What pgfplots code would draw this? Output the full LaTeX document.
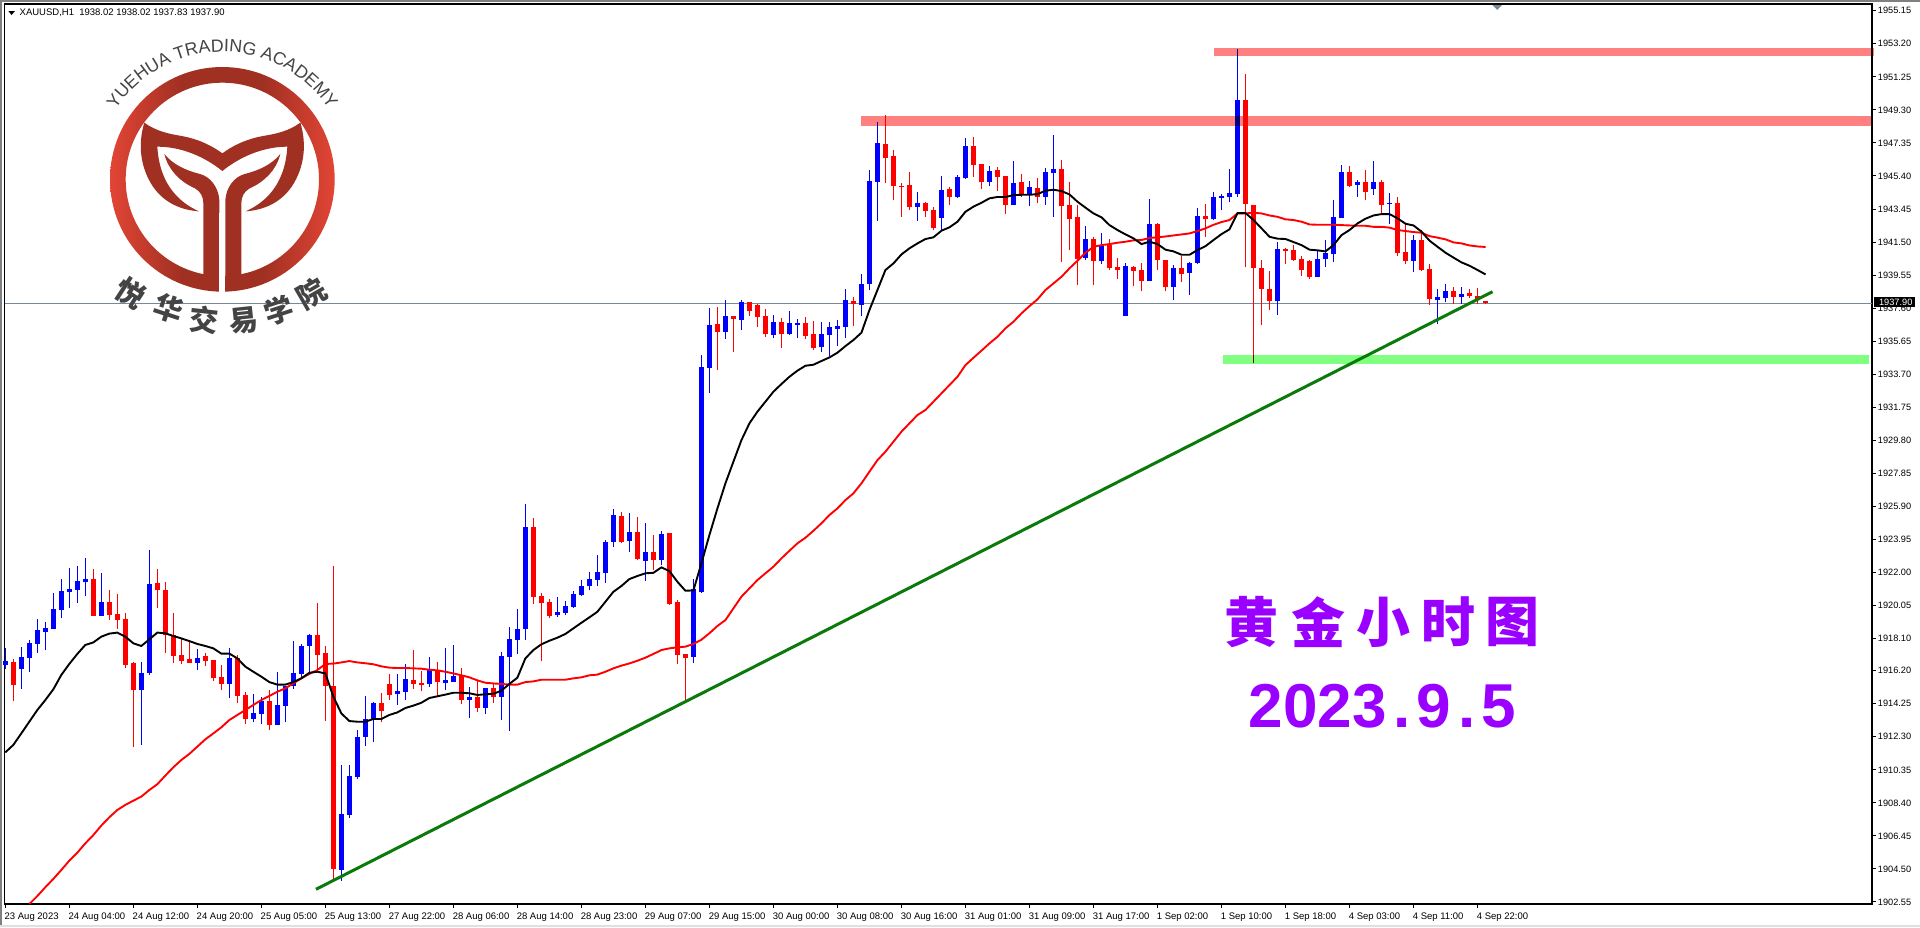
\documentclass[border=0pt]{standalone}
\usepackage{fontspec}
\usepackage{pgfplots}
\usepackage{pgfplotstable}
\pgfplotsset{compat=1.18}
\usetikzlibrary{decorations.text}
\setmainfont{Liberation Sans}
\newfontfamily\cjk{Noto Sans CJK SC}

\definecolor{barblue}{HTML}{0000FF}
\definecolor{barred}{HTML}{FF0000}
\definecolor{zonered}{HTML}{FF8080}
\definecolor{zonegreen}{HTML}{80FF80}
\definecolor{trendgreen}{HTML}{0A7A0A}
\definecolor{priceline}{HTML}{778899}
\definecolor{logodark}{HTML}{A03022}
\definecolor{logolight}{HTML}{E24535}
\definecolor{logotext}{HTML}{444444}
\definecolor{titlepurple}{HTML}{9900FF}
\pgfdeclarehorizontalshading{logoring}{100bp}{color(0bp)=(logolight); color(25bp)=(logolight); color(41bp)=(logodark); color(59bp)=(logodark); color(75bp)=(logolight); color(100bp)=(logolight)}

% bullish bars
\pgfplotstableread{
i o h l c
0 1916.54 1917.52 1916.30 1916.77
2 1916.30 1917.60 1915.12 1917.01
3 1916.95 1918.01 1916.12 1917.84
4 1917.78 1919.25 1917.25 1918.60
5 1918.48 1919.07 1917.42 1918.72
6 1918.66 1920.79 1918.66 1919.84
7 1919.78 1921.61 1919.31 1920.90
8 1920.85 1922.26 1919.90 1921.02
9 1920.96 1922.38 1920.20 1921.49
10 1921.44 1922.85 1920.61 1921.61
12 1919.43 1921.97 1919.43 1920.26
17 1915.06 1916.71 1911.82 1916.07
18 1916.07 1923.32 1915.95 1921.32
24 1916.66 1917.48 1916.24 1916.95
28 1915.42 1917.54 1914.59 1916.95
31 1913.35 1914.83 1913.17 1913.70
32 1913.65 1914.65 1913.06 1914.41
34 1913.00 1916.12 1913.00 1914.18
35 1914.12 1915.30 1913.17 1915.30
36 1915.30 1917.95 1915.12 1916.07
37 1916.01 1917.78 1915.83 1917.66
38 1917.66 1918.37 1916.07 1918.31
42 1904.44 1910.64 1903.79 1907.74
43 1907.69 1910.64 1907.51 1909.99
44 1909.93 1912.70 1909.81 1912.29
45 1912.29 1914.71 1911.76 1913.35
46 1913.35 1914.35 1911.99 1914.29
49 1914.83 1916.01 1914.18 1915.00
50 1914.94 1916.60 1914.47 1915.71
53 1915.42 1917.01 1915.24 1916.24
55 1915.47 1917.54 1915.06 1915.65
56 1915.53 1917.72 1915.53 1915.89
58 1914.47 1915.24 1913.41 1914.65
60 1914.00 1915.18 1913.64 1915.18
62 1914.67 1917.30 1913.29 1917.07
63 1917.01 1918.78 1912.64 1918.07
64 1918.01 1919.84 1917.19 1918.66
65 1918.66 1926.04 1918.01 1924.68
69 1919.49 1920.55 1919.37 1919.66
70 1919.60 1920.31 1919.49 1920.02
71 1919.96 1920.90 1919.90 1920.73
72 1920.67 1921.55 1920.61 1921.20
73 1921.20 1922.02 1920.96 1921.61
74 1921.55 1923.03 1921.20 1922.02
75 1921.97 1923.91 1921.38 1923.80
76 1923.80 1925.74 1923.50 1925.39
78 1923.85 1925.51 1923.21 1924.39
80 1922.67 1924.92 1921.49 1923.21
82 1922.73 1924.44 1922.44 1924.27
86 1917.01 1921.61 1916.65 1921.02
87 1920.84 1934.83 1920.78 1934.12
88 1934.06 1937.60 1932.59 1936.60
90 1936.19 1938.08 1935.78 1937.13
92 1936.90 1938.08 1936.31 1937.96
96 1936.01 1937.19 1935.83 1936.78
98 1936.07 1937.43 1936.01 1936.72
99 1936.60 1936.96 1935.83 1936.72
102 1935.30 1936.78 1935.01 1936.07
103 1936.01 1936.78 1934.77 1936.48
104 1936.37 1936.90 1935.36 1936.54
105 1936.48 1938.73 1935.83 1938.08
107 1937.78 1939.61 1937.13 1939.02
108 1939.02 1945.75 1938.67 1945.10
109 1945.04 1948.58 1942.74 1947.34
114 1943.57 1944.45 1942.74 1943.80
117 1942.92 1945.39 1942.15 1944.57
119 1944.16 1945.45 1944.10 1945.34
120 1945.28 1947.64 1945.22 1947.17
123 1945.04 1945.99 1944.80 1945.69
126 1943.68 1946.28 1943.68 1944.98
128 1944.33 1945.10 1943.62 1944.75
130 1944.16 1945.87 1943.68 1945.63
131 1945.57 1947.81 1942.98 1945.81
135 1940.56 1942.44 1940.44 1941.68
137 1940.38 1942.03 1940.20 1941.26
140 1937.13 1940.26 1937.13 1940.08
143 1939.20 1944.04 1939.20 1942.56
146 1938.84 1940.14 1938.08 1939.97
148 1939.67 1940.32 1938.37 1940.26
149 1940.26 1943.51 1940.20 1943.03
151 1942.86 1944.45 1942.80 1944.16
152 1944.10 1944.33 1943.39 1944.21
153 1944.16 1945.81 1943.86 1944.39
154 1944.33 1952.89 1944.16 1949.88
159 1938.02 1941.50 1937.19 1941.09
164 1939.43 1941.03 1939.43 1940.50
165 1940.50 1941.62 1940.02 1940.85
166 1940.79 1943.98 1940.32 1942.98
167 1942.92 1946.04 1942.92 1945.63
169 1944.86 1945.16 1944.16 1945.04
171 1944.63 1946.28 1944.27 1945.04
173 1943.74 1944.39 1942.56 1943.80
176 1940.38 1941.91 1939.73 1941.62
179 1938.08 1938.73 1936.66 1938.25
180 1938.20 1939.02 1937.96 1938.61
182 1938.25 1938.84 1937.84 1938.43
}\upbars

% bearish bars
\pgfplotstableread{
i o h l c
1 1916.71 1916.89 1914.41 1915.36
11 1921.61 1922.20 1919.43 1919.43
13 1920.26 1920.96 1919.19 1919.49
14 1919.55 1920.73 1918.66 1919.19
15 1919.25 1919.61 1916.36 1916.54
16 1916.66 1916.71 1911.70 1915.06
19 1921.38 1922.20 1919.90 1920.96
20 1920.96 1921.44 1917.25 1918.31
21 1918.31 1919.61 1916.66 1917.07
22 1917.13 1918.07 1916.60 1916.77
23 1916.89 1917.89 1916.66 1916.66
25 1917.07 1917.25 1916.48 1916.77
26 1916.83 1916.83 1915.59 1915.77
27 1915.83 1916.54 1915.06 1915.42
29 1916.95 1917.13 1914.29 1914.71
30 1914.77 1914.94 1913.06 1913.35
33 1914.41 1915.06 1912.70 1913.00
39 1918.31 1920.20 1916.12 1917.13
40 1917.25 1917.66 1913.23 1915.30
41 1915.30 1922.38 1903.73 1904.50
47 1914.29 1914.88 1913.17 1913.82
48 1915.42 1916.01 1914.47 1914.77
51 1915.65 1917.42 1915.12 1915.42
52 1915.47 1916.18 1915.00 1915.36
54 1916.24 1916.71 1914.71 1915.53
57 1915.89 1916.36 1914.24 1914.47
59 1914.65 1915.59 1913.76 1914.00
61 1915.18 1915.45 1914.31 1914.67
66 1924.68 1925.21 1920.14 1920.57
67 1920.61 1920.78 1916.77 1920.20
68 1920.25 1920.43 1919.31 1919.43
77 1925.33 1925.57 1923.74 1923.80
79 1924.39 1925.27 1922.73 1922.79
81 1923.21 1924.21 1922.14 1922.73
83 1924.33 1924.33 1920.08 1920.14
84 1920.25 1920.37 1916.60 1917.13
85 1917.19 1917.19 1914.47 1916.95
89 1936.66 1937.66 1933.95 1936.19
91 1937.13 1937.13 1935.01 1936.96
93 1937.96 1937.96 1937.13 1937.43
94 1937.78 1937.84 1936.48 1937.07
95 1937.13 1937.55 1935.89 1936.07
97 1936.78 1937.01 1935.24 1936.07
100 1936.72 1937.07 1935.78 1935.95
101 1936.07 1936.84 1935.13 1935.24
106 1938.02 1938.25 1936.54 1937.84
110 1947.28 1948.99 1944.98 1946.46
111 1946.58 1946.93 1943.98 1944.80
112 1944.80 1944.98 1942.98 1944.75
113 1944.86 1945.63 1943.39 1943.57
115 1943.80 1943.86 1942.98 1943.33
116 1943.39 1943.57 1942.21 1942.33
118 1944.63 1944.75 1943.68 1944.16
121 1947.17 1947.70 1945.34 1946.04
122 1946.10 1946.10 1944.63 1945.04
124 1945.75 1945.93 1944.51 1945.34
125 1945.39 1945.39 1943.15 1943.68
127 1945.04 1945.51 1944.16 1944.33
129 1944.69 1945.28 1943.80 1944.16
132 1945.81 1946.34 1940.32 1943.62
133 1943.68 1945.04 1941.03 1942.86
134 1942.98 1943.68 1938.96 1940.50
136 1941.68 1941.80 1938.96 1940.38
138 1941.32 1941.68 1939.85 1939.97
139 1940.02 1940.56 1939.32 1939.85
141 1940.02 1940.08 1938.90 1939.79
142 1939.85 1940.26 1938.61 1939.20
144 1942.56 1942.62 1939.85 1940.44
145 1940.44 1940.44 1938.61 1938.84
147 1939.97 1940.67 1939.14 1939.61
150 1943.03 1943.74 1941.80 1942.86
155 1949.88 1951.41 1940.02 1943.74
156 1943.68 1943.68 1934.34 1939.96
157 1939.96 1940.44 1936.60 1938.73
158 1938.73 1939.79 1937.49 1938.02
160 1941.09 1941.15 1940.20 1940.97
161 1941.03 1941.32 1940.38 1940.44
162 1940.50 1940.67 1939.49 1939.85
163 1940.38 1940.44 1939.32 1939.43
168 1945.63 1945.98 1944.75 1944.80
170 1945.04 1945.75 1943.98 1944.45
172 1945.04 1945.16 1943.15 1943.68
174 1943.80 1944.16 1940.67 1940.85
175 1940.91 1942.56 1940.20 1940.38
177 1941.62 1942.21 1939.79 1939.85
178 1939.91 1940.20 1937.78 1938.14
181 1938.61 1938.84 1937.84 1938.25
183 1938.49 1938.73 1938.20 1938.31
184 1938.31 1938.79 1937.84 1938.08
185 1938.02 1938.02 1937.83 1937.90
}\downbars

% fast moving average (black)
\pgfplotstableread{
i v
0 1911.38
1 1911.82
2 1912.50
3 1913.19
4 1913.88
5 1914.47
6 1915.10
7 1915.95
8 1916.60
9 1917.19
10 1917.72
11 1917.87
12 1918.21
13 1918.39
14 1918.45
15 1918.21
16 1917.82
17 1917.66
18 1918.05
19 1918.45
20 1918.41
21 1918.25
22 1918.11
23 1917.95
24 1917.78
25 1917.66
26 1917.52
27 1917.21
28 1917.21
29 1916.93
30 1916.44
31 1916.14
32 1915.85
33 1915.53
34 1915.38
35 1915.38
36 1915.53
37 1915.75
38 1916.08
39 1916.14
40 1916.04
41 1914.67
42 1913.68
43 1913.23
44 1913.19
45 1913.19
46 1913.35
47 1913.35
48 1913.59
49 1913.74
50 1914.00
51 1914.14
52 1914.31
53 1914.59
54 1914.69
55 1914.79
56 1914.90
57 1914.90
58 1914.87
59 1914.77
60 1914.81
61 1914.84
62 1915.02
63 1915.42
64 1915.79
65 1916.93
66 1917.42
67 1917.76
68 1917.97
69 1918.15
70 1918.37
71 1918.70
72 1919.03
73 1919.35
74 1919.68
75 1920.27
76 1920.86
77 1921.20
78 1921.61
79 1921.79
80 1921.95
81 1921.98
82 1922.30
83 1922.08
84 1921.45
85 1920.92
86 1920.94
87 1922.54
88 1924.21
89 1925.78
90 1927.26
91 1928.54
92 1929.81
93 1930.80
94 1931.49
95 1932.08
96 1932.67
97 1933.12
98 1933.55
99 1933.91
100 1934.20
101 1934.26
102 1934.48
103 1934.69
104 1934.97
105 1935.36
106 1935.72
107 1936.15
108 1937.49
109 1938.67
110 1939.85
111 1940.24
112 1940.77
113 1941.13
114 1941.42
115 1941.68
116 1941.78
117 1942.17
118 1942.37
119 1942.70
120 1943.29
121 1943.59
122 1943.82
123 1944.08
124 1944.16
125 1944.16
126 1944.27
127 1944.29
128 1944.29
129 1944.33
130 1944.53
131 1944.59
132 1944.51
133 1944.31
134 1943.88
135 1943.53
136 1943.19
137 1942.96
138 1942.50
139 1942.21
140 1941.95
141 1941.72
142 1941.38
143 1941.52
144 1941.38
145 1941.05
146 1940.95
147 1940.75
148 1940.75
149 1941.03
150 1941.26
151 1941.62
152 1941.97
153 1942.25
154 1943.21
155 1943.21
156 1942.80
157 1942.31
158 1941.81
159 1941.70
160 1941.68
161 1941.50
162 1941.32
163 1941.05
164 1941.01
165 1940.95
166 1941.32
167 1941.91
168 1942.21
169 1942.60
170 1942.88
171 1943.07
172 1943.15
173 1943.15
174 1942.90
175 1942.58
176 1942.48
177 1942.11
178 1941.58
179 1941.22
180 1940.87
181 1940.58
182 1940.30
183 1940.10
184 1939.85
185 1939.59
}\fastma

% slow moving average (red)
\pgfplotstableread{
i v
3 1902.43
4 1902.90
5 1903.42
6 1903.91
7 1904.44
8 1904.99
9 1905.46
10 1906.01
11 1906.50
12 1907.06
13 1907.55
14 1907.98
15 1908.28
16 1908.53
17 1908.77
18 1909.16
19 1909.50
20 1910.01
21 1910.50
22 1910.93
23 1911.29
24 1911.72
25 1912.15
26 1912.50
27 1912.86
28 1913.29
29 1913.59
30 1913.88
31 1914.18
32 1914.47
33 1914.71
34 1914.96
35 1915.16
36 1915.46
37 1915.75
38 1916.01
39 1916.24
40 1916.60
41 1916.62
42 1916.69
43 1916.77
44 1916.69
45 1916.64
46 1916.58
47 1916.46
48 1916.38
49 1916.36
50 1916.36
51 1916.34
52 1916.32
53 1916.26
54 1916.22
55 1916.14
56 1916.04
57 1915.93
58 1915.81
59 1915.63
60 1915.49
61 1915.45
62 1915.42
63 1915.38
64 1915.38
65 1915.53
66 1915.57
67 1915.67
68 1915.67
69 1915.67
70 1915.67
71 1915.75
72 1915.81
73 1915.93
74 1915.97
75 1916.14
76 1916.34
77 1916.50
78 1916.63
79 1916.79
80 1916.97
81 1917.19
82 1917.42
83 1917.52
84 1917.58
85 1917.62
86 1917.78
87 1918.03
88 1918.41
89 1918.84
90 1919.19
91 1919.88
92 1920.57
93 1921.06
94 1921.55
95 1921.95
96 1922.34
97 1922.83
98 1923.28
99 1923.72
100 1924.05
101 1924.46
102 1924.90
103 1925.39
104 1925.78
105 1926.27
106 1926.67
107 1927.26
108 1927.95
109 1928.63
110 1929.13
111 1929.72
112 1930.31
113 1930.80
114 1931.29
115 1931.59
116 1932.08
117 1932.57
118 1933.06
119 1933.55
120 1934.24
121 1934.67
122 1935.09
123 1935.52
124 1935.91
125 1936.41
126 1936.80
127 1937.29
128 1937.72
129 1938.12
130 1938.67
131 1939.06
132 1939.45
133 1939.95
134 1940.40
135 1940.87
136 1941.22
137 1941.32
138 1941.38
139 1941.46
140 1941.52
141 1941.60
142 1941.62
143 1941.74
144 1941.78
145 1941.83
146 1941.89
147 1941.95
148 1942.01
149 1942.15
150 1942.31
151 1942.52
152 1942.68
153 1942.80
154 1943.19
155 1943.19
156 1943.23
157 1943.19
158 1943.07
159 1942.99
160 1942.84
161 1942.80
162 1942.70
163 1942.54
164 1942.52
165 1942.52
166 1942.52
167 1942.50
168 1942.48
169 1942.46
170 1942.46
171 1942.40
172 1942.40
173 1942.35
174 1942.21
175 1942.15
176 1942.09
177 1942.05
178 1941.85
179 1941.76
180 1941.66
181 1941.48
182 1941.42
183 1941.30
184 1941.24
185 1941.21
}\slowma

\pgfplotsset{
  wick/.style={draw=none, no markers, forget plot,
    error bars/.cd, y dir=plus, y explicit, error mark=none,
    error bar style={draw=#1, line width=0.5pt}},
  body/.style={draw=none, no markers, forget plot,
    error bars/.cd, y dir=plus, y explicit, error mark=none,
    error bar style={draw=#1, line width=2.5pt}},
}

\begin{document}
\begin{tikzpicture}
\path[use as bounding box] (0,0) rectangle (960pt,-463.5pt);
\fill[white] (0,0) rectangle (960pt,-463.5pt);
\fill[black!50] (0,0) rectangle (960pt,-1pt);
\fill[black!50] (0,0) rectangle (1pt,-463.5pt);
\fill[black!12] (0,-462.5pt) rectangle (960pt,-463.5pt);

\begin{axis}[
  at={(2.25pt,-2pt)}, anchor=north west,
  scale only axis, width=933.75pt, height=450pt,
  xmin=-0.1, xmax=233.3, ymin=1902.43, ymax=1955.55,
  clip=false,
  axis line style={black, line width=0.6pt},
  tick style={black, line width=0.5pt},
  tick align=outside, major tick length=1.75pt,
  xtick pos=bottom, ytick pos=right,
  yticklabel pos=right,
  xtick={0,8,...,184},
  xticklabels={23 Aug 2023,24 Aug 04:00,24 Aug 12:00,24 Aug 20:00,25 Aug 05:00,25 Aug 13:00,27 Aug 22:00,28 Aug 06:00,28 Aug 14:00,28 Aug 23:00,29 Aug 07:00,29 Aug 15:00,30 Aug 00:00,30 Aug 08:00,30 Aug 16:00,31 Aug 01:00,31 Aug 09:00,31 Aug 17:00,1 Sep 02:00,1 Sep 10:00,1 Sep 18:00,4 Sep 03:00,4 Sep 11:00,4 Sep 22:00},
  ytick={1955.15,1953.20,1951.25,1949.30,1947.35,1945.40,1943.45,1941.50,1939.55,1937.60,1935.65,1933.70,1931.75,1929.80,1927.85,1925.90,1923.95,1922.00,1920.05,1918.10,1916.20,1914.25,1912.30,1910.35,1908.40,1906.45,1904.50,1902.55},
  tick label style={font=\fontsize{4.6}{5}\selectfont, inner sep=0pt},
  x tick label style={font=\fontsize{4.75}{5}\selectfont, anchor=north west, xshift=-0.5pt, yshift=-2.5pt},
  y tick label style={anchor=west, xshift=1pt},
  /pgf/number format/.cd, fixed, fixed zerofill, precision=2, 1000 sep={}, assume math mode=true,
]
% last price line
\addplot[priceline, line width=0.5pt, forget plot] coordinates {(-0.1,1937.90) (233.3,1937.90)};

% wicks then bodies
\addplot[wick=barblue] table[x=i, y=l, y error plus expr=\thisrow{h}-\thisrow{l}] {\upbars};
\addplot[wick=barred] table[x=i, y=l, y error plus expr=\thisrow{h}-\thisrow{l}] {\downbars};
\addplot[body=barblue] table[x=i, y=o, y error plus expr=\thisrow{c}-\thisrow{o}] {\upbars};
\addplot[body=barred] table[x=i, y=c, y error plus expr=\thisrow{o}-\thisrow{c}] {\downbars};

% moving averages
\addplot[barred, line width=0.95pt, forget plot] table[x=i, y=v] {\slowma};
\addplot[black, line width=0.95pt, forget plot] table[x=i, y=v] {\fastma};

% support and resistance zones
\addplot[fill=zonered, draw=none, blend mode=multiply, forget plot] coordinates {(106.96,1948.94) (233.2,1948.94) (233.2,1948.35) (106.96,1948.35)} -- cycle;
\addplot[fill=zonered, draw=none, blend mode=multiply, forget plot] coordinates {(151,1952.95) (233.55,1952.95) (233.55,1952.48) (151,1952.48)} -- cycle;
\addplot[fill=zonegreen, draw=none, blend mode=multiply, forget plot] coordinates {(152.2,1934.83) (232.9,1934.83) (232.9,1934.32) (152.2,1934.32)} -- cycle;

% trend line
\addplot[trendgreen, line width=1.5pt, forget plot] coordinates {(38.83,1903.30) (185.87,1938.57)};
\end{axis}

% pixel coordinates from here on (origin top left)
\begin{scope}[x=0.5pt, y=-0.5pt]
\fill[black] (8.3,11) -- (15,11) -- (11.6,15) -- cycle;
\node[anchor=west, inner sep=0pt, font=\fontsize{4.75}{5}\selectfont] at (19.3,12.7) {XAUUSD,H1\ \ 1938.02 1938.02 1937.83 1937.90};
\fill[priceline] (1492.5,5) -- (1502,5) -- (1497.2,10) -- cycle;
\fill[black] (1874.3,296.7) rectangle (1914.7,307.3);
\node[anchor=west, inner sep=0pt, text=white, font=\fontsize{4.6}{5}\selectfont] at (1878.7,302) {1937.90};

% title
\foreach \ch/\cx in {黄/1251.7,金/1318.3,小/1383.3,时/1448.3,图/1512}
  \node[inner sep=0pt, text=titlepurple, font=\cjk\bfseries\fontsize{27}{30}\selectfont] at (\cx,622) {\ch};
\node[inner sep=0pt, text=titlepurple, font=\bfseries\fontsize{31}{34}\selectfont] at (1382.5,706) {2023\hspace{3.3pt}.\hspace{3.3pt}9\hspace{3.3pt}.\hspace{3.3pt}5};
\end{scope}

% logo, measured on a 3x crop of the top left corner
\begin{scope}[x=0.16667pt, y=-0.16667pt]
\shade[even odd rule, shading=logoring]
  (667,538) circle (337) (667,538) circle (290);
\fill[logodark] (433,368) .. controls (470,395) and (510,402) .. (545,408)
  .. controls (600,418) and (640,440) .. (667,460)
  .. controls (694,440) and (734,418) .. (789,408)
  .. controls (824,402) and (864,395) .. (901,368)
  .. controls (920,430) and (915,500) .. (875,560)
  .. controls (840,610) and (790,630) .. (737,634)
  .. controls (790,610) and (855,560) .. (862,440)
  .. controls (790,440) and (720,470) .. (667,513)
  .. controls (614,470) and (544,440) .. (472,440)
  .. controls (479,560) and (544,610) .. (597,634)
  .. controls (544,630) and (494,610) .. (459,560)
  .. controls (419,500) and (414,430) .. (433,368) -- cycle;
\fill[logodark] (493,462) .. controls (505,510) and (540,545) .. (585,565)
  .. controls (602,575) and (610,590) .. (610,610)
  -- (610,822) -- (625,873) .. controls (645,870) and (658,855) .. (658,835)
  -- (658,600) .. controls (655,560) and (630,530) .. (600,522)
  .. controls (560,512) and (520,495) .. (493,462) -- cycle;
\fill[logodark] (841,462) .. controls (829,510) and (794,545) .. (749,565)
  .. controls (732,575) and (724,590) .. (724,610)
  -- (724,822) -- (709,873) .. controls (689,870) and (676,855) .. (676,835)
  -- (676,600) .. controls (679,560) and (704,530) .. (734,522)
  .. controls (774,512) and (814,495) .. (841,462) -- cycle;
\fill[white] (658,640) rectangle (676,880);
\foreach \ch/\cx/\cy/\ang in {悦/393/880/-33,华/505/925/-18,交/612/960/-6,易/730/962/6,学/835/930/18,院/935/880/30}
  \node[inner sep=0pt, rotate=\ang, text=logotext, font=\cjk\bfseries\fontsize{14.5}{15}\selectfont] at (\cx,\cy) {\ch};
\end{scope}
\begin{scope}[shift={(111.17pt,-89.67pt)}]
\path[decorate, decoration={text along path, text align=center,
    text={|\fontsize{8.9}{10}\selectfont\color{logotext}|YUEHUA TRADING ACADEMY}}]
  (155:63.7pt) arc (155:25:63.7pt);
\end{scope}
\end{tikzpicture}
\end{document}
